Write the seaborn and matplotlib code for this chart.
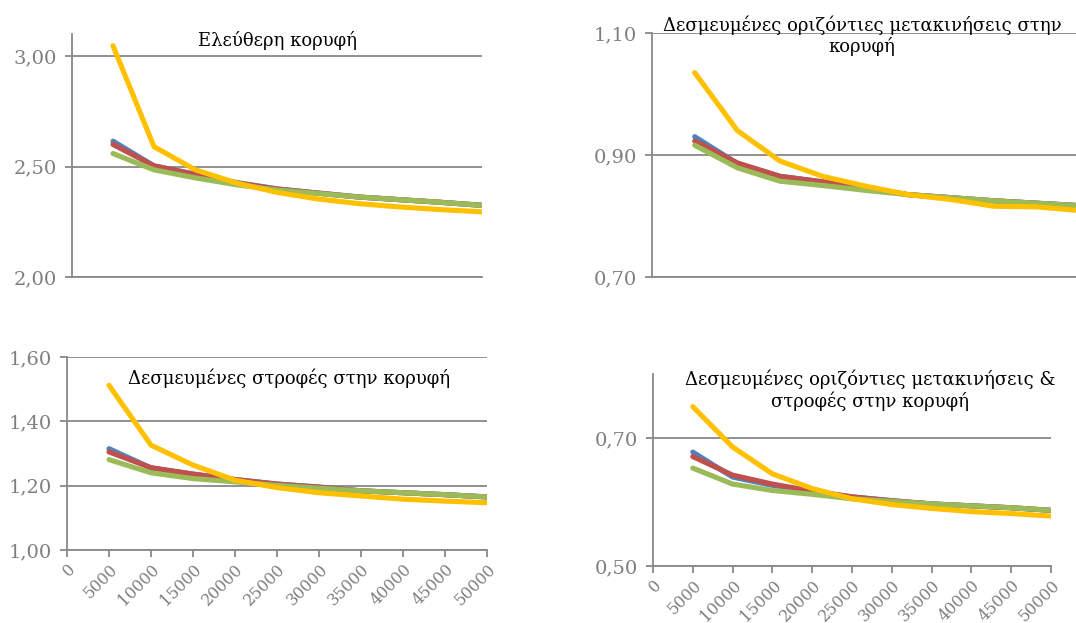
import numpy as np
import pandas as pd
import matplotlib
matplotlib.use("Agg")
import matplotlib.pyplot as plt
from matplotlib.ticker import FuncFormatter
import seaborn as sns

# Load steps (x) shared by all four panels
steps = [5000, 10000, 15000, 20000, 25000, 30000, 35000, 40000, 45000, 50000]
x_ticks = list(range(0, 50001, 5000))
series_names = ["S1", "S2", "S3", "S4"]
colors = ["#4F81BD", "#C0504D", "#9BBB59", "#FFC000"]

# Panel 1: free top
free_s1 = [2.615, 2.503, 2.466, 2.428, 2.399, 2.380, 2.362, 2.350, 2.338, 2.325]
free_s2 = [2.600, 2.503, 2.464, 2.426, 2.398, 2.380, 2.362, 2.350, 2.338, 2.324]
free_s3 = [2.559, 2.485, 2.449, 2.418, 2.394, 2.378, 2.362, 2.350, 2.338, 2.324]
free_s4 = [3.047, 2.590, 2.486, 2.426, 2.383, 2.353, 2.332, 2.317, 2.305, 2.295]

# Panel 2: restrained horizontal displacements at the top
disp_s1 = [0.930, 0.886, 0.865, 0.856, 0.846, 0.835, 0.830, 0.825, 0.821, 0.817]
disp_s2 = [0.923, 0.887, 0.865, 0.856, 0.846, 0.835, 0.830, 0.825, 0.821, 0.817]
disp_s3 = [0.916, 0.879, 0.857, 0.850, 0.842, 0.835, 0.830, 0.825, 0.821, 0.817]
disp_s4 = [1.035, 0.940, 0.890, 0.865, 0.849, 0.835, 0.827, 0.816, 0.815, 0.809]

# Panel 3: restrained rotations at the top
rot_s1 = [1.315, 1.255, 1.236, 1.219, 1.205, 1.196, 1.184, 1.178, 1.172, 1.165]
rot_s2 = [1.305, 1.256, 1.236, 1.219, 1.205, 1.195, 1.184, 1.178, 1.172, 1.165]
rot_s3 = [1.281, 1.240, 1.222, 1.212, 1.201, 1.192, 1.184, 1.178, 1.172, 1.165]
rot_s4 = [1.512, 1.326, 1.264, 1.217, 1.194, 1.178, 1.168, 1.158, 1.152, 1.147]

# Panel 4: restrained displacements & rotations at the top
both_s1 = [0.678, 0.639, 0.626, 0.617, 0.608, 0.602, 0.597, 0.594, 0.591, 0.587]
both_s2 = [0.671, 0.642, 0.628, 0.617, 0.608, 0.602, 0.597, 0.594, 0.591, 0.587]
both_s3 = [0.653, 0.628, 0.618, 0.612, 0.605, 0.601, 0.597, 0.594, 0.591, 0.587]
both_s4 = [0.749, 0.686, 0.644, 0.621, 0.605, 0.596, 0.590, 0.585, 0.582, 0.578]

titles = [
    "Ελεύθερη κορυφή",
    "Δεσμευμένες οριζόντιες μετακινήσεις στην\nκορυφή",
    "Δεσμευμένες στροφές στην κορυφή",
    "Δεσμευμένες οριζόντιες μετακινήσεις &\nστροφές στην κορυφή",
]

sns.set_theme(style="white")
plt.rcParams["font.family"] = ["DejaVu Serif"]

W, H = 1076, 623
fig = plt.figure(figsize=(W / 100, H / 100), dpi=100)


def box(l, t, r, b):
    return [l / W, 1 - b / H, (r - l) / W, (b - t) / H]


GRAY = "#888888"
LABEL_GRAY = "#7F7F7F"

panels = [
    dict(data=[free_s1, free_s2, free_s3, free_s4], pos=box(72, 34, 482, 277),
         ylim=(2.0, 3.1), yticks=[2.0, 2.5, 3.0], xlabels=False,
         title=(277, 40)),
    dict(data=[disp_s1, disp_s2, disp_s3, disp_s4], pos=box(652, 33, 1079, 277),
         ylim=(0.7, 1.1), yticks=[0.7, 0.9, 1.1], xlabels=False,
         title=(862, 36)),
    dict(data=[rot_s1, rot_s2, rot_s3, rot_s4], pos=box(67, 357, 487, 550),
         ylim=(1.0, 1.6), yticks=[1.0, 1.2, 1.4, 1.6], xlabels=True,
         title=(289, 378)),
    dict(data=[both_s1, both_s2, both_s3, both_s4], pos=box(653, 374, 1051, 566),
         ylim=(0.5, 0.8), yticks=[0.5, 0.7], xlabels=True,
         title=(870, 390)),
]

comma_fmt = FuncFormatter(lambda v, _: f"{v:.2f}".replace(".", ","))

for p, title in zip(panels, titles):
    ax = fig.add_axes(p["pos"])
    df = pd.DataFrame({
        "x": np.tile(steps, 4),
        "y": np.concatenate(p["data"]),
        "series": np.repeat(series_names, len(steps)),
    })
    sns.lineplot(data=df, x="x", y="y", hue="series", palette=colors,
                 linewidth=3.7, legend=False, ax=ax, sort=False,
                 solid_capstyle="round", solid_joinstyle="round", zorder=3)
    ax.set_xlim(0, 50000)
    ax.set_ylim(*p["ylim"])
    ax.set_yticks(p["yticks"])
    ax.yaxis.set_major_formatter(comma_fmt)
    ax.set_xlabel("")
    ax.set_ylabel("")
    ax.grid(axis="y", color=GRAY, linewidth=1.3, zorder=1)
    ax.grid(axis="x", visible=False)
    for side in ("top", "right"):
        ax.spines[side].set_visible(False)
    for side in ("left", "bottom"):
        ax.spines[side].set_color(GRAY)
        ax.spines[side].set_linewidth(1.3)
    ax.tick_params(axis="y", which="major", left=True, length=5, width=1.3,
                   color=GRAY, labelcolor=LABEL_GRAY, labelsize=14, pad=6)
    if p["xlabels"]:
        ax.set_xticks(x_ticks)
        ax.set_xticklabels([str(v) for v in x_ticks], rotation=45,
                           ha="right", va="top", rotation_mode="anchor")
        ax.tick_params(axis="x", which="major", bottom=True, length=5,
                       width=1.3, color=GRAY, labelcolor=LABEL_GRAY,
                       labelsize=11.5, pad=3)
    else:
        ax.set_xticks([])
    fig.text(p["title"][0] / W, 1 - p["title"][1] / H, title,
             ha="center", va="center", fontsize=13, color="black",
             linespacing=1.15)

fig.savefig("out.png", dpi=100)
